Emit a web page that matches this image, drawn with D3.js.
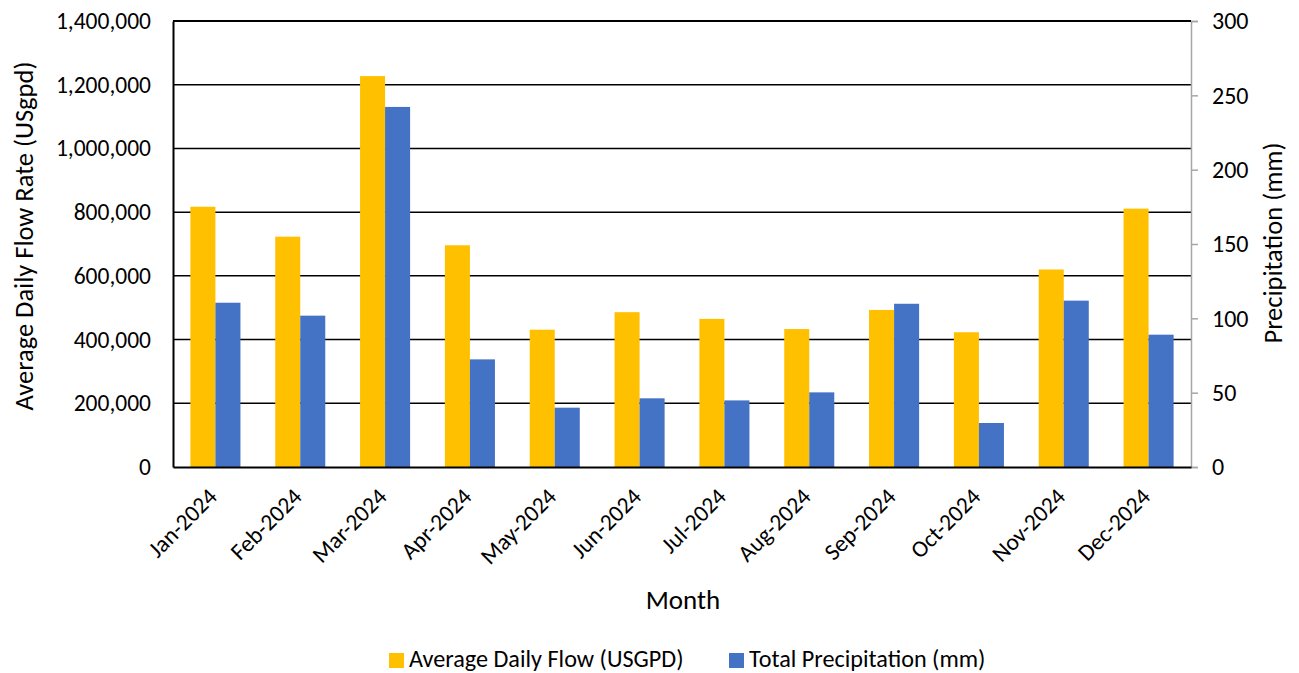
<!DOCTYPE html>
<html>
<head>
<meta charset="utf-8">
<script src="https://cdn.jsdelivr.net/npm/d3@7"></script>
<style>
  html, body { margin: 0; padding: 0; background: #fff; }
  svg { display: block; }
  svg text { font-family: Carlito, Lato, "Liberation Sans", sans-serif; }
</style>
</head>
<body>
<svg id="chart" width="1299" height="673"></svg>
<script>
// Monthly flow and rainfall, 2024
const months = ["Jan-2024", "Feb-2024", "Mar-2024", "Apr-2024", "May-2024", "Jun-2024",
                "Jul-2024", "Aug-2024", "Sep-2024", "Oct-2024", "Nov-2024", "Dec-2024"];
const avgDailyFlow = [817000, 723000, 1227000, 696000, 431000, 486000,
                      465000, 433000, 493000, 423000, 620000, 811000];
const totalPrecip = [110.5, 101.8, 242.2, 72.4, 39.9, 46.2,
                     44.8, 50.2, 109.8, 29.6, 111.9, 89.0];
const flowTicks = [0, 200000, 400000, 600000, 800000, 1000000, 1200000, 1400000];
const precipTicks = [0, 50, 100, 150, 200, 250, 300];
const seriesNames = ["Average Daily Flow (USGPD)", "Total Precipitation (mm)"];
const seriesColors = ["#FFC000", "#4472C4"];

const FONT = 'Carlito, Lato, "Liberation Sans", sans-serif';
const svg = d3.select("#chart");
const m = { left: 173, right: 1191, top: 21, bottom: 467 };

const x = d3.scaleBand().domain(months).range([m.left, m.right]).paddingInner(0.41).paddingOuter(0.205);
const sub = d3.scaleBand().domain([0, 1]).range([0, x.bandwidth()]);
const yL = d3.scaleLinear().domain([0, 1400000]).range([m.bottom, m.top]);
const yR = d3.scaleLinear().domain([0, 300]).range([m.bottom, m.top]);

// Horizontal gridlines
svg.append("g")
  .selectAll("line").data(flowTicks.slice(1)).join("line")
  .attr("x1", m.left).attr("x2", m.right)
  .attr("y1", d => yL(d)).attr("y2", d => yL(d))
  .attr("stroke", "#000").attr("stroke-width", 1.5);

// Bars
const groups = svg.append("g").selectAll("g").data(months).join("g")
  .attr("transform", d => `translate(${x(d)},0)`);
groups.append("rect")
  .attr("x", sub(0)).attr("width", sub.bandwidth())
  .attr("y", (d, i) => yL(avgDailyFlow[i]))
  .attr("height", (d, i) => yL(0) - yL(avgDailyFlow[i]))
  .attr("fill", seriesColors[0]);
groups.append("rect")
  .attr("x", sub(1)).attr("width", sub.bandwidth())
  .attr("y", (d, i) => yR(totalPrecip[i]))
  .attr("height", (d, i) => yR(0) - yR(totalPrecip[i]))
  .attr("fill", seriesColors[1]);

// Left axis
const leftAxis = svg.append("g").attr("transform", `translate(${m.left},0)`)
  .call(d3.axisLeft(yL).tickValues(flowTicks).tickFormat(d3.format(",")).tickSize(0).tickPadding(22))
  .attr("font-family", FONT);
leftAxis.select(".domain").attr("stroke", "#000").attr("stroke-width", 2);
leftAxis.selectAll("text").attr("font-size", 23.5).attr("fill", "#000");

// Right axis
const rightAxis = svg.append("g").attr("transform", `translate(${m.right},0)`)
  .call(d3.axisRight(yR).tickValues(precipTicks).tickSize(7).tickPadding(14))
  .attr("font-family", FONT);
rightAxis.select(".domain").attr("stroke", "#A6A6A6").attr("stroke-width", 1.5);
rightAxis.selectAll(".tick line").attr("stroke", "#A6A6A6").attr("stroke-width", 1.5);
rightAxis.selectAll("text").attr("font-size", 24).attr("fill", "#000");

// Bottom axis
const bottomAxis = svg.append("g").attr("transform", `translate(0,${m.bottom})`)
  .call(d3.axisBottom(x).tickSize(0).tickPadding(0))
  .attr("font-family", FONT);
bottomAxis.select(".domain").attr("stroke", "#000").attr("stroke-width", 2);
bottomAxis.selectAll("text")
  .attr("font-size", 23.5).attr("fill", "#000")
  .attr("text-anchor", "end")
  .attr("dy", 0)
  .attr("transform", "translate(3,31) rotate(-45)");

// Top border
svg.append("line")
  .attr("x1", m.left).attr("x2", m.right).attr("y1", m.top).attr("y2", m.top)
  .attr("stroke", "#000").attr("stroke-width", 2);

// Axis titles
svg.append("text")
  .attr("transform", "translate(27,236) rotate(-90)")
  .attr("text-anchor", "middle").attr("dominant-baseline", "middle")
  .attr("font-size", 26.5).text("Average Daily Flow Rate (USgpd)");
svg.append("text")
  .attr("transform", "translate(1276,243) rotate(-90)")
  .attr("text-anchor", "middle").attr("dominant-baseline", "middle")
  .attr("font-size", 26.5).text("Precipitation (mm)");
svg.append("text")
  .attr("x", 683).attr("y", 609)
  .attr("text-anchor", "middle").attr("font-size", 27).text("Month");

// Legend
const legend = svg.append("g");
const legendX = [389, 729];
seriesNames.forEach((name, i) => {
  legend.append("rect").attr("x", legendX[i]).attr("y", 653).attr("width", 15).attr("height", 15)
    .attr("fill", seriesColors[i]);
  legend.append("text").attr("x", legendX[i] + 20).attr("y", 667)
    .attr("font-size", 24.2).attr("fill", "#000").text(name);
});
</script>
</body>
</html>
